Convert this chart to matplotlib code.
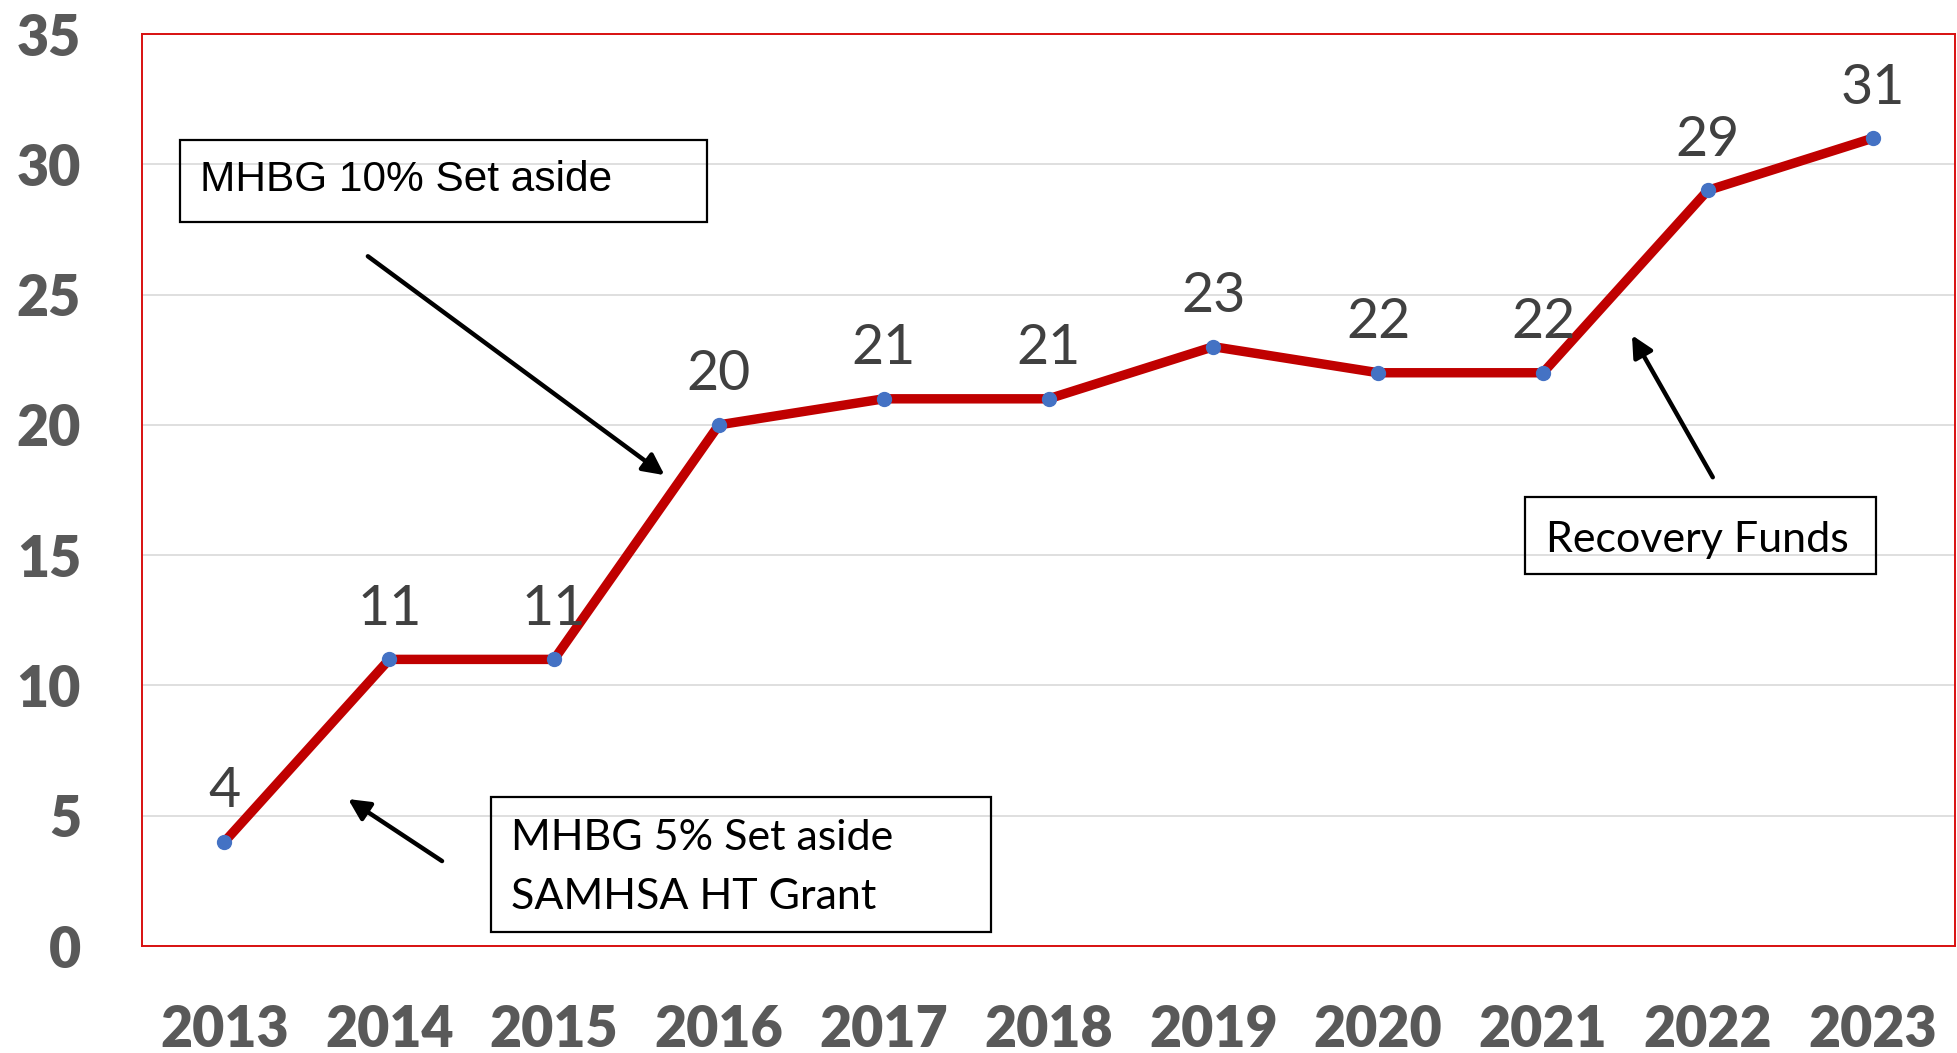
import matplotlib.pyplot as plt
from matplotlib.patches import Rectangle

years = [2013, 2014, 2015, 2016, 2017, 2018, 2019, 2020, 2021, 2022, 2023]
values = [4, 11, 11, 20, 21, 21, 23, 22, 22, 29, 31]
y_ticks = [0, 5, 10, 15, 20, 25, 30, 35]

fig = plt.figure(figsize=(19.57, 10.53), dpi=100)
ax = fig.add_axes([0.0726, 0.1016, 0.9264, 0.8661])

ax.plot(years, values, color='#C00000', lw=6.8, marker='o', markersize=10,
        markerfacecolor='#4472C4', markeredgecolor='#4472C4', zorder=3,
        solid_joinstyle='miter')

# data labels
for x, v in zip(years, values):
    ax.annotate(str(v), (x, v), xytext=(0, 25), textcoords='offset points',
                ha='center', va='baseline', fontsize=40, color='#404040',
                family='Lato', zorder=4)

ax.set_xlim(2012.5, 2023.5)
ax.set_ylim(0, 35)
ax.set_xticks(years)
ax.set_xticklabels([str(y) for y in years])
ax.set_yticks(y_ticks)
ax.tick_params(length=0)
ax.tick_params(axis='y', pad=44)
ax.tick_params(axis='x', pad=42)
for lbl in ax.get_xticklabels() + ax.get_yticklabels():
    lbl.set_fontsize(40)
    lbl.set_fontweight('heavy')
    lbl.set_color('#595959')
    lbl.set_family('Lato')

ax.grid(axis='y', color='#D9D9D9', lw=1.2, zorder=0)
ax.set_axisbelow(True)
for s in ax.spines.values():
    s.set_color('#D81010')
    s.set_linewidth(1.4)

# text boxes
ax.add_patch(Rectangle((2012.73, 27.77), 3.20, 3.15, fill=False, ec='black', lw=1.6, zorder=5))
ax.text(2012.85, 29.4, 'MHBG 10% Set aside', fontsize=30.5, family='Liberation Sans',
        va='center', ha='left', zorder=6)

ax.add_patch(Rectangle((2014.62, 0.54), 3.03, 5.18, fill=False, ec='black', lw=1.6, zorder=5))
ax.text(2014.74, 4.15, 'MHBG 5% Set aside', fontsize=31, family='Lato',
        va='center', ha='left', zorder=6)
ax.text(2014.74, 1.9, 'SAMHSA HT Grant', fontsize=31, family='Lato',
        va='center', ha='left', zorder=6)

ax.add_patch(Rectangle((2020.89, 14.27), 2.13, 2.95, fill=False, ec='black', lw=1.6, zorder=5))
ax.text(2021.02, 15.6, 'Recovery Funds', fontsize=31, family='Lato',
        va='center', ha='left', zorder=6)

# arrows
arrow = dict(arrowstyle='-|>', lw=3.2, color='black', mutation_scale=32, shrinkA=0, shrinkB=0)
ax.annotate('', xy=(2015.67, 18.07), xytext=(2013.87, 26.47), arrowprops=arrow, zorder=6)
ax.annotate('', xy=(2013.75, 5.64), xytext=(2014.32, 3.26), arrowprops=arrow, zorder=6)
ax.annotate('', xy=(2021.54, 23.44), xytext=(2022.03, 17.99), arrowprops=arrow, zorder=6)

fig.savefig('out.png', dpi=100)
